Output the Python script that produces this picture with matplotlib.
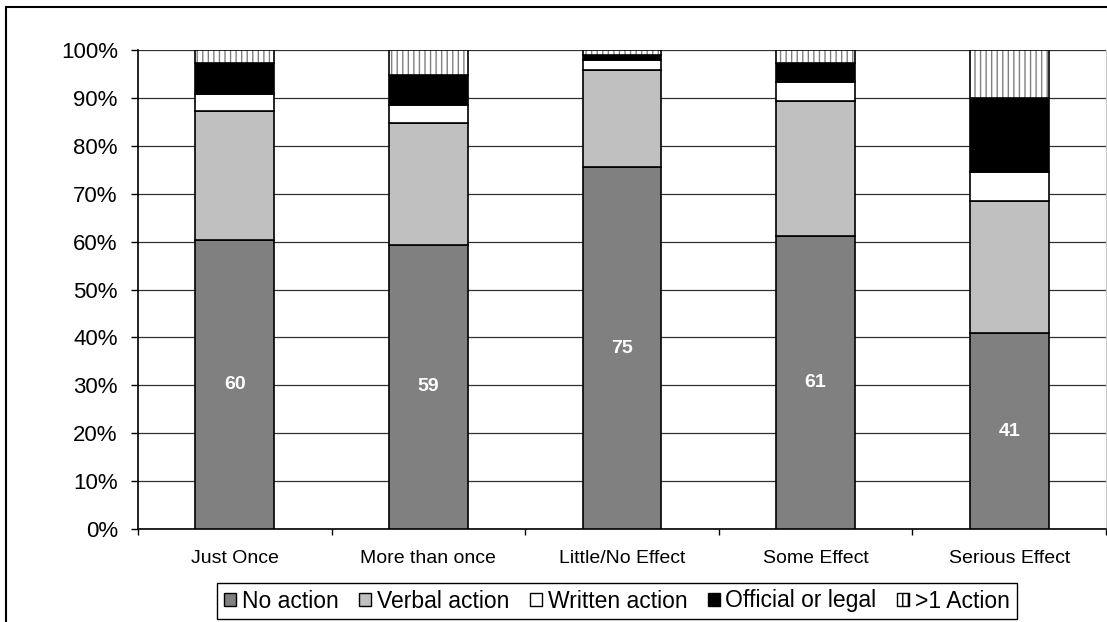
import matplotlib
matplotlib.use('Agg')
import matplotlib.pyplot as plt
from matplotlib.patches import Patch, Rectangle
from matplotlib.ticker import FixedLocator, PercentFormatter

plt.rcParams['font.family'] = ['Liberation Sans', 'DejaVu Sans']
plt.rcParams['hatch.linewidth'] = 1.0

categories = ['Just Once', 'More than once', 'Little/No Effect', 'Some Effect', 'Serious Effect']
no_action = [60.3, 59.3, 75.5, 61.2, 40.9]
verbal_action = [27.0, 25.4, 20.3, 28.2, 27.6]
written_action = [3.5, 3.9, 2.1, 4.0, 6.0]
official_legal = [6.4, 6.1, 1.1, 3.8, 15.4]
more_than_one = [2.8, 5.3, 1.0, 2.8, 10.1]
bar_labels = ['60', '59', '75', '61', '41']

series_names = ['No action', 'Verbal action', 'Written action', 'Official or legal', '>1 Action']
series_colors = ['#808080', '#c0c0c0', 'white', 'black', 'white']

W, H = 1107, 622
fig = plt.figure(figsize=(W / 100, H / 100), dpi=100)
ax = fig.add_axes([138 / W, (H - 529) / H, (1106 - 138) / W, (529 - 50) / H])

x = list(range(len(categories)))
width = 0.406
series = [no_action, verbal_action, written_action, official_legal, more_than_one]
bottom = [0.0] * len(x)
for i, vals in enumerate(series):
    if i == 4:
        # hatch in gray, outline in black
        ax.bar(x, vals, width, bottom=bottom, color='white', edgecolor='#808080',
               hatch='|||', linewidth=0, zorder=3)
        ax.bar(x, vals, width, bottom=bottom, fill=False, edgecolor='black',
               linewidth=1.2, zorder=4)
    else:
        ax.bar(x, vals, width, bottom=bottom, color=series_colors[i],
               edgecolor='black', linewidth=1.2, zorder=3)
    bottom = [b + v for b, v in zip(bottom, vals)]

for xi, v, lab in zip(x, no_action, bar_labels):
    ax.text(xi, v / 2, lab, ha='center', va='center', color='white',
            fontsize=14, fontweight='bold', zorder=5)

ax.set_xlim(-0.5, 4.5)
ax.set_ylim(0, 100)
ax.set_yticks(range(0, 101, 10))
ax.yaxis.set_major_formatter(PercentFormatter(decimals=0))
ax.grid(axis='y', color='#303030', linewidth=0.9, zorder=0)
ax.set_axisbelow(True)

ax.set_xticks(x)
ax.set_xticklabels(categories, fontsize=14)
ax.xaxis.set_minor_locator(FixedLocator([i - 0.5 for i in range(6)]))
ax.tick_params(axis='x', which='major', length=0, pad=15)
ax.tick_params(axis='x', which='minor', length=4, width=1, direction='out')
ax.tick_params(axis='y', length=5, width=1, labelsize=16, pad=9.5)

ax.spines['top'].set_visible(False)
ax.spines['right'].set_color('#c8c8c8')
ax.spines['left'].set_linewidth(1.2)
ax.spines['bottom'].set_linewidth(1.2)

handles = []
for name, col in zip(series_names, series_colors):
    if name == '>1 Action':
        handles.append(Patch(facecolor='white', edgecolor='black', hatch='|||', label=name))
    else:
        handles.append(Patch(facecolor=col, edgecolor='black', label=name))
fig.legend(handles=handles, loc='center', bbox_to_anchor=(617 / W, (H - 601) / H),
           ncol=5, fontsize=16.5, frameon=True, fancybox=False, edgecolor='black',
           framealpha=1, handlelength=0.52, handleheight=0.52, handletextpad=0.25,
           columnspacing=0.9, borderpad=0.3, borderaxespad=0)

# outer chart border (right and bottom edges fall outside the image)
fig.patches.append(Rectangle((6 / W, -0.1), 1.2, (H - 7) / H + 0.1,
                             transform=fig.transFigure, fill=False,
                             edgecolor='black', linewidth=1.5))

fig.savefig('out.png', dpi=100)
